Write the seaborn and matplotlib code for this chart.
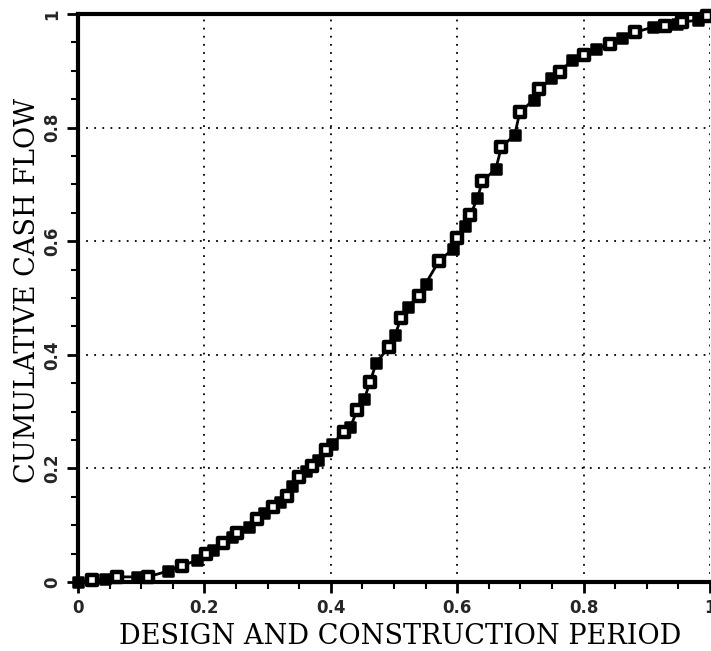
import matplotlib
matplotlib.use("Agg")
import matplotlib.pyplot as plt
import seaborn as sns
import pandas as pd
from matplotlib.ticker import MultipleLocator

# Design and construction period (fraction) vs cumulative cash flow (fraction)
period = [0.000, 0.022, 0.043, 0.062, 0.093, 0.110, 0.142, 0.164, 0.189, 0.202,
          0.213, 0.229, 0.243, 0.252, 0.271, 0.284, 0.295, 0.308, 0.319, 0.330,
          0.339, 0.350, 0.361, 0.371, 0.380, 0.393, 0.402, 0.421, 0.431, 0.442,
          0.453, 0.462, 0.472, 0.492, 0.502, 0.511, 0.522, 0.539, 0.550, 0.571,
          0.593, 0.599, 0.612, 0.621, 0.632, 0.640, 0.661, 0.670, 0.691, 0.699,
          0.721, 0.730, 0.749, 0.763, 0.781, 0.800, 0.820, 0.841, 0.860, 0.882,
          0.910, 0.929, 0.948, 0.956, 0.981, 0.996]
cash_flow = [0.000, 0.004, 0.006, 0.009, 0.009, 0.009, 0.019, 0.028, 0.039, 0.049,
             0.056, 0.069, 0.079, 0.086, 0.097, 0.111, 0.121, 0.132, 0.141, 0.151,
             0.169, 0.185, 0.195, 0.204, 0.215, 0.232, 0.243, 0.264, 0.273, 0.303,
             0.322, 0.352, 0.386, 0.414, 0.435, 0.465, 0.484, 0.504, 0.525, 0.565,
             0.586, 0.606, 0.627, 0.646, 0.676, 0.706, 0.727, 0.766, 0.787, 0.827,
             0.849, 0.868, 0.887, 0.898, 0.919, 0.928, 0.938, 0.947, 0.958, 0.968,
             0.977, 0.979, 0.982, 0.986, 0.989, 0.996]
x_ticks = [0, 0.2, 0.4, 0.6, 0.8, 1]
x_tick_labels = ["0", "0.2", "0.4", "0.6", "0.8", "1"]
y_ticks = [0, 0.2, 0.4, 0.6, 0.8, 1]
y_tick_labels = ["0", "0.2", "0.4", "0.6", "0.8", "1"]
x_label = "DESIGN AND CONSTRUCTION PERIOD"
y_label = "CUMULATIVE CASH FLOW"

df = pd.DataFrame({"period": period, "cash": cash_flow})
df["kind"] = ["filled" if i % 2 == 0 else "open" for i in range(len(df))]

sns.set_theme(style="white")
plt.rcParams["font.family"] = ["DejaVu Sans"]

fig = plt.figure(figsize=(7.11, 6.51), dpi=100)
ax = fig.add_axes([78 / 711, 69 / 651, 632 / 711, 568 / 651])

sns.lineplot(data=df, x="period", y="cash", ax=ax, color="black", lw=2.0,
             sort=False, clip_on=False, zorder=3)
filled = df[df["kind"] == "filled"]
opened = df[df["kind"] == "open"]
sns.scatterplot(data=filled, x="period", y="cash", ax=ax, marker="s", s=48,
                color="black", edgecolor="black", linewidth=1.8, zorder=4,
                clip_on=False, legend=False)
sns.scatterplot(data=opened, x="period", y="cash", ax=ax, marker="s", s=42,
                facecolor="white", edgecolor="black", linewidth=3.2, zorder=4,
                clip_on=False, legend=False)

ax.set_xlim(0, 1)
ax.set_ylim(0, 1)
ax.set_xticks(x_ticks)
ax.set_xticklabels(x_tick_labels, fontsize=12, fontweight="bold")
ax.set_yticks(y_ticks)
ax.set_yticklabels(y_tick_labels, fontsize=12, fontweight="bold",
                   rotation=90, va="center")
ax.xaxis.set_minor_locator(MultipleLocator(0.05))
ax.yaxis.set_minor_locator(MultipleLocator(0.05))
ax.tick_params(axis="both", which="major", direction="out", length=8,
               width=2, color="black", pad=4, bottom=True, left=True)
ax.tick_params(axis="both", which="minor", direction="out", length=5,
               width=1.5, color="black", bottom=True, left=True)

ax.grid(True, which="major", color="black", linestyle=(0, (1, 3.5)), lw=1.3)

for side in ["left", "bottom", "top"]:
    ax.spines[side].set_visible(True)
    ax.spines[side].set_color("black")
    ax.spines[side].set_linewidth(3)
ax.spines["right"].set_visible(False)

ax.set_xlabel(x_label, family="DejaVu Serif", fontsize=19.5, color="black")
ax.xaxis.set_label_coords(0.509, -0.072)
ax.set_ylabel(y_label, family="DejaVu Serif", fontsize=19.5, color="black")
ax.yaxis.set_label_coords(-0.058, 0.514)

fig.savefig("out.png", dpi=100, facecolor="white")
